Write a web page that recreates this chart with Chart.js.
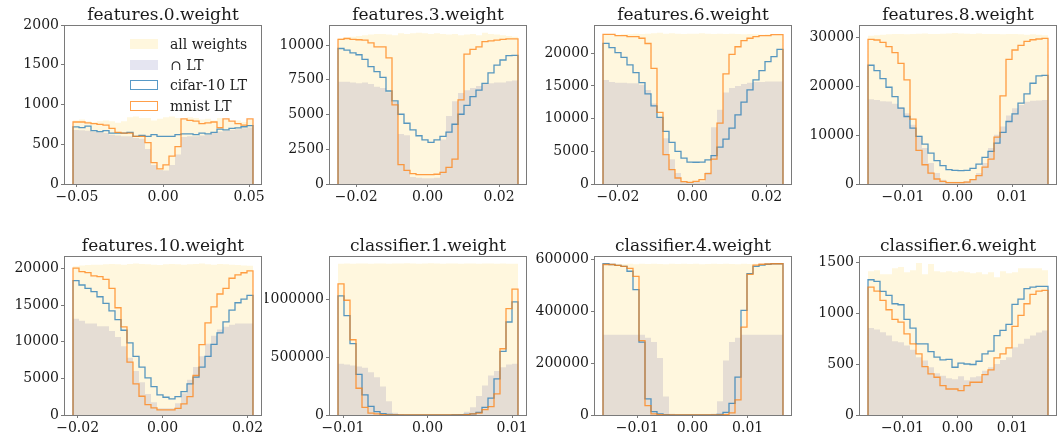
<!DOCTYPE html>
<html>
<head>
<meta charset="utf-8">
<script src="https://cdn.jsdelivr.net/npm/chart.js@4.4.0/dist/chart.umd.min.js"></script>
<style>
  body { margin: 0; width: 1061px; height: 436px; overflow: hidden; background: #fff; position: relative; }
  canvas { position: absolute; }
  .legend { position: absolute; left: 130px; top: 34px; font: 14px "DejaVu Serif", serif; color: #222; z-index: 5; }
  .legend div { height: 20.5px; display: flex; align-items: center; white-space: nowrap; }
  .legend span.sw { display: inline-block; width: 28px; height: 10px; margin-right: 12px; box-sizing: border-box; }
</style>
</head>
<body>
<div class="legend" id="legend"></div>
<script>
// layer titles, one subplot each
const titles = ['features.0.weight', 'features.3.weight', 'features.6.weight', 'features.8.weight',
                'features.10.weight', 'classifier.1.weight', 'classifier.4.weight', 'classifier.6.weight'];
const series = ['all weights', '\u2229 LT', 'cifar-10 LT', 'mnist LT'];

// histogram range (first / last bin edge) of each layer
const binRange = [[-0.0523, 0.0523], [-0.0251, 0.0253], [-0.0240, 0.0244], [-0.0164, 0.0166],
                  [-0.0211, 0.0213], [-0.0106, 0.0107], [-0.0162, 0.0164], [-0.0163, 0.0165]];
const yMax = [2000, 11440, 24330, 32515, 21685, 1373000, 612800, 1559];
const xTicks = [[-0.05, 0, 0.05], [-0.02, 0, 0.02], [-0.02, 0, 0.02], [-0.01, 0, 0.01],
                [-0.02, 0, 0.02], [-0.01, 0, 0.01], [-0.01, 0, 0.01], [-0.01, 0, 0.01]];
const yTicks = [[0, 500, 1000, 1500, 2000], [0, 2500, 5000, 7500, 10000], [0, 5000, 10000, 15000, 20000],
                [0, 10000, 20000, 30000], [0, 5000, 10000, 15000, 20000], [0, 500000, 1000000],
                [0, 200000, 400000, 600000], [0, 500, 1000, 1500]];

// 30 bin counts per layer
const allWeights = [
  [800, 810, 790, 780, 790, 800, 790, 770, 790, 840, 850, 830, 830, 800, 820, 840, 850, 830, 820, 840, 830, 810, 820, 800, 830, 810, 790, 800, 780, 810],
  [10500, 10550, 10600, 10650, 10700, 10750, 10800, 10800, 10750, 10700, 10850, 10800, 10850, 10890, 10850, 10800, 10850, 10800, 10750, 10800, 10700, 10750, 10800, 10700, 10890, 10800, 10750, 10700, 10650, 10600],
  [22950, 22900, 22850, 22900, 22950, 23000, 22950, 23000, 23050, 23150, 23000, 23050, 23000, 22950, 23000, 23000, 23050, 23000, 22950, 23000, 22950, 23000, 22950, 22900, 22950, 22900, 22850, 22900, 22850, 22900],
  [30300, 30400, 30500, 30600, 30650, 30700, 30600, 30700, 30750, 30800, 30700, 30650, 30750, 30800, 30900, 30800, 30750, 30700, 30800, 30700, 30650, 30700, 30600, 30700, 30650, 30600, 30500, 30600, 30500, 30400],
  [20300, 20400, 20450, 20500, 20500, 20550, 20600, 20550, 20500, 20600, 20650, 20600, 20550, 20500, 20450, 20550, 20600, 20550, 20500, 20550, 20600, 20650, 20550, 20500, 20600, 20550, 20500, 20450, 20400, 20350],
  [1306000, 1308000, 1307000, 1309000, 1308000, 1307000, 1309000, 1308000, 1307000, 1309000, 1308000, 1310000, 1308000, 1307000, 1309000, 1310000, 1308000, 1307000, 1309000, 1308000, 1307000, 1308000, 1309000, 1307000, 1308000, 1309000, 1307000, 1308000, 1307000, 1306000],
  [583000, 582000, 583000, 582000, 583000, 581000, 583000, 582000, 583000, 582000, 581000, 583000, 582000, 583000, 582000, 583000, 581000, 582000, 583000, 582000, 583000, 582000, 581000, 583000, 582000, 583000, 582000, 583000, 582000, 583000],
  [1410, 1420, 1380, 1380, 1440, 1450, 1400, 1420, 1490, 1380, 1480, 1410, 1400, 1410, 1400, 1410, 1400, 1390, 1400, 1380, 1400, 1350, 1410, 1390, 1400, 1440, 1440, 1440, 1440, 1420]
];
const andLT = [
  [680, 675, 670, 660, 650, 640, 620, 610, 600, 600, 580, 570, 440, 240, 175, 170, 240, 370, 590, 600, 600, 610, 620, 640, 660, 670, 680, 690, 700, 710],
  [7350, 7350, 7300, 7250, 7300, 7200, 7000, 6900, 6600, 5900, 3600, 3500, 500, 450, 420, 420, 450, 3200, 4900, 5950, 6550, 6750, 6900, 7050, 7200, 7250, 7300, 7300, 7400, 7450],
  [15900, 15600, 15500, 15500, 15400, 15400, 15200, 14400, 12300, 10100, 7000, 3800, 1700, 420, 350, 350, 400, 1780, 8700, 11350, 14000, 14700, 15000, 15300, 15500, 15600, 15600, 15700, 15700, 15700],
  [17340, 17200, 16900, 16860, 16390, 15700, 14480, 12100, 9860, 7340, 4280, 2240, 880, 480, 450, 480, 600, 1000, 2240, 4280, 7340, 10060, 11760, 14000, 15500, 16180, 16800, 17000, 17100, 17200],
  [13120, 12840, 12480, 12480, 12110, 12110, 11470, 10640, 9370, 7800, 6000, 4480, 2880, 1740, 910, 910, 910, 1600, 2970, 4800, 6540, 8000, 9730, 10800, 11650, 12020, 12300, 12480, 12480, 12480],
  [442000, 436000, 428000, 419000, 407000, 370000, 327000, 246000, 118000, 20000, 9000, 2000, 0, 0, 0, 0, 0, 0, 0, 2000, 8000, 29000, 66000, 165000, 254000, 341000, 379000, 413000, 436000, 442000],
  [309000, 309000, 309000, 309000, 309000, 309000, 309000, 298000, 281000, 220000, 71000, 5000, 0, 0, 0, 0, 0, 0, 5000, 53000, 210000, 281000, 298000, 309000, 309000, 309000, 309000, 309000, 309000, 309000],
  [852, 838, 812, 779, 724, 714, 681, 640, 567, 534, 468, 409, 386, 360, 350, 380, 340, 370, 380, 435, 468, 500, 540, 567, 665, 698, 747, 779, 810, 829]
];
const cifarLT = [
  [718, 710, 727, 672, 660, 672, 640, 640, 640, 650, 600, 610, 600, 620, 600, 600, 600, 620, 630, 630, 620, 640, 630, 650, 690, 680, 700, 705, 720, 735],
  [9750, 9630, 9440, 9300, 8960, 8440, 8080, 7670, 6690, 5980, 5020, 4370, 3900, 3470, 3180, 2990, 3180, 3420, 3730, 4300, 5020, 5660, 6280, 6760, 7240, 8000, 8560, 8920, 9230, 9250],
  [21530, 20870, 20100, 19390, 18220, 17050, 15520, 13790, 11960, 10180, 8040, 6360, 4990, 3970, 3360, 3330, 3360, 3700, 4330, 5650, 6870, 8550, 10590, 12520, 14400, 15930, 17360, 18730, 19490, 20610],
  [24280, 23190, 21560, 19790, 17880, 15500, 13800, 11420, 9720, 8160, 6320, 4760, 3740, 2920, 2790, 2750, 2790, 3200, 4080, 5440, 6660, 8360, 10540, 12780, 14350, 16520, 18430, 20600, 22100, 22200],
  [18330, 17730, 17280, 16820, 16130, 15220, 14210, 13020, 11560, 9830, 8000, 6540, 5070, 3880, 2740, 2420, 2190, 2510, 3200, 4250, 5160, 6540, 8000, 9640, 11200, 12700, 14300, 15310, 15800, 16320],
  [1029000, 858000, 616000, 350000, 173000, 75000, 29000, 12000, 6000, 2000, 0, 0, 0, 0, 0, 0, 0, 0, 0, 2000, 4000, 5000, 9000, 23000, 66000, 145000, 312000, 549000, 803000, 977000],
  [583000, 580000, 577000, 573000, 554000, 483000, 281000, 62000, 13000, 4000, 1000, 0, 0, 0, 0, 0, 0, 0, 0, 2000, 10000, 45000, 146000, 403000, 545000, 573000, 578000, 581000, 583000, 583000],
  [1326, 1310, 1212, 1172, 1091, 1081, 937, 852, 698, 698, 622, 567, 540, 545, 468, 508, 500, 495, 527, 599, 626, 779, 829, 888, 1085, 1136, 1240, 1254, 1262, 1262]
];
const mnistLT = [
  [780, 780, 770, 760, 750, 740, 700, 650, 640, 640, 600, 600, 520, 270, 190, 240, 350, 470, 820, 800, 790, 760, 770, 780, 710, 820, 790, 760, 740, 820],
  [10400, 10470, 10400, 10380, 10350, 10160, 9870, 9870, 9080, 5690, 1390, 980, 740, 670, 670, 670, 700, 840, 1200, 1790, 6050, 9340, 9680, 9870, 10240, 10300, 10350, 10400, 10440, 10440],
  [22900, 22900, 22700, 22700, 22550, 22550, 22300, 21500, 17700, 10950, 4480, 2190, 920, 360, 250, 400, 660, 1580, 3820, 9310, 16850, 19850, 21000, 21940, 22300, 22550, 22700, 22700, 22850, 22850],
  [29580, 29450, 28970, 28080, 26860, 24680, 21280, 13260, 6870, 3940, 2240, 1020, 540, 270, 270, 300, 400, 880, 1700, 3470, 5100, 9590, 18020, 25500, 27400, 28360, 29170, 29500, 29650, 29780],
  [20020, 19560, 19430, 18970, 18880, 18510, 17280, 14630, 12020, 7220, 4250, 2560, 1420, 960, 690, 690, 690, 910, 1510, 2510, 5390, 9600, 12570, 14760, 16500, 17280, 18650, 19100, 19400, 19650],
  [1133000, 991000, 650000, 231000, 66000, 17000, 9000, 3000, 0, 0, 0, 0, 0, 0, 0, 0, 0, 0, 0, 0, 0, 2000, 9000, 17000, 46000, 72000, 182000, 572000, 919000, 1087000],
  [580000, 580000, 577000, 573000, 565000, 534000, 287000, 36000, 4000, 1000, 0, 0, 0, 0, 0, 0, 0, 0, 0, 0, 1000, 8000, 58000, 339000, 542000, 578000, 581000, 582000, 583000, 583000],
  [1254, 1215, 1124, 1032, 937, 910, 796, 698, 600, 475, 403, 370, 288, 255, 255, 239, 288, 321, 321, 396, 442, 560, 599, 658, 868, 976, 1091, 1182, 1215, 1221]
];

const fills = ['#fff7de', 'rgba(0, 0, 128, 0.1)'];
const lines = ['rgba(31, 119, 180, 0.75)', 'rgba(255, 127, 14, 0.75)'];

// plot-area geometry on the page
const colLeft = [64, 329, 594, 859];
const rowTop = [25, 256];
const W = 198, H = 159;
const PAD = 20, Y_W = 64, TITLE_H = 25, X_H = 30;

Chart.defaults.font.family = '"DejaVu Serif", serif';
Chart.defaults.color = '#222';

// histogram outline: (lo,0) up to each bin height, down at hi
function stepPts(vals, lo, hi) {
  const w = (hi - lo) / vals.length;
  const pts = [{ x: lo, y: 0 }];
  vals.forEach((v, i) => pts.push({ x: lo + i * w, y: v }));
  pts.push({ x: hi, y: 0 });
  return pts;
}

const fmtX = v => (v < 0 ? '\u2212' : '') + Math.abs(v).toFixed(2);

const frame = {
  id: 'frame',
  afterDatasetsDraw(chart) {
    const { ctx, chartArea: a } = chart;
    ctx.save();
    ctx.strokeStyle = '#7a7a7a';
    ctx.lineWidth = 1;
    ctx.strokeRect(Math.round(a.left) + 0.5, Math.round(a.top) + 0.5, Math.round(a.width) - 1, Math.round(a.height));
    ctx.restore();
  }
};

titles.forEach((title, k) => {
  const L = colLeft[k % 4], T = rowTop[Math.floor(k / 4)];
  const cv = document.createElement('canvas');
  cv.width = PAD + Y_W + W + Y_W + PAD;
  cv.height = TITLE_H + H + X_H;
  cv.style.left = (L - PAD - Y_W) + 'px';
  cv.style.top = (T - TITLE_H) + 'px';
  document.body.appendChild(cv);

  const [lo, hi] = binRange[k];
  const m = (hi - lo) * 0.05;
  const common = { stepped: true, pointRadius: 0, pointHoverRadius: 0, tension: 0 };

  new Chart(cv.getContext('2d'), {
    type: 'line',
    data: {
      datasets: [
        { ...common, label: series[0], data: stepPts(allWeights[k], lo, hi), fill: 'origin',
          backgroundColor: fills[0], borderColor: 'rgba(0,0,0,0)', borderWidth: 0, order: 4 },
        { ...common, label: series[1], data: stepPts(andLT[k], lo, hi), fill: 'origin',
          backgroundColor: fills[1], borderColor: 'rgba(0,0,0,0)', borderWidth: 0, order: 3 },
        { ...common, label: series[2], data: stepPts(cifarLT[k], lo, hi), fill: false,
          borderColor: lines[0], borderWidth: 1.3, order: 2 },
        { ...common, label: series[3], data: stepPts(mnistLT[k], lo, hi), fill: false,
          borderColor: lines[1], borderWidth: 1.3, order: 1 }
      ]
    },
    options: {
      responsive: false,
      animation: false,
      devicePixelRatio: 1,
      layout: { padding: { left: PAD, right: PAD, top: 0, bottom: 0 } },
      plugins: {
        legend: { display: false },
        tooltip: { enabled: false },
        title: {
          display: true, text: title, color: '#1a1a1a',
          font: { size: 17, weight: 'normal', lineHeight: 1 },
          padding: { top: 7, bottom: 1 }
        }
      },
      scales: {
        x: {
          type: 'linear', min: lo - m, max: hi + m,
          afterBuildTicks: s => { s.ticks = xTicks[k].map(v => ({ value: v })); },
          afterFit: s => { s.height = X_H; },
          ticks: { callback: v => fmtX(v), font: { size: 14 }, color: '#1a1a1a', padding: 2, maxRotation: 0, autoSkip: false },
          grid: { drawOnChartArea: false, drawTicks: true, tickLength: 3, color: '#7a7a7a' },
          border: { display: false }
        },
        y: {
          type: 'linear', min: 0, max: yMax[k],
          afterBuildTicks: s => { s.ticks = yTicks[k].map(v => ({ value: v })); },
          afterFit: s => { s.width = Y_W; },
          ticks: { callback: v => String(v), font: { size: 14 }, color: '#1a1a1a', padding: 2, autoSkip: false },
          grid: { drawOnChartArea: false, drawTicks: true, tickLength: 3, color: '#7a7a7a' },
          border: { display: false }
        },
        // empty right-hand spacer, same width as the y axis, so the title centres over the plot
        spacer: {
          type: 'linear', position: 'right', display: true,
          afterFit: s => { s.width = Y_W; },
          ticks: { display: false },
          grid: { display: false },
          border: { display: false }
        }
      }
    },
    plugins: [frame]
  });
});

// legend inside the first subplot
const legend = document.getElementById('legend');
const swatch = [
  `background:${fills[0]}`,
  'background:#e5e5f1',
  `border:1.5px solid ${lines[0]}`,
  `border:1.5px solid ${lines[1]}`
];
series.forEach((name, i) => {
  const row = document.createElement('div');
  row.innerHTML = `<span class="sw" style="${swatch[i]}"></span>${name}`;
  legend.appendChild(row);
});
</script>
</body>
</html>
